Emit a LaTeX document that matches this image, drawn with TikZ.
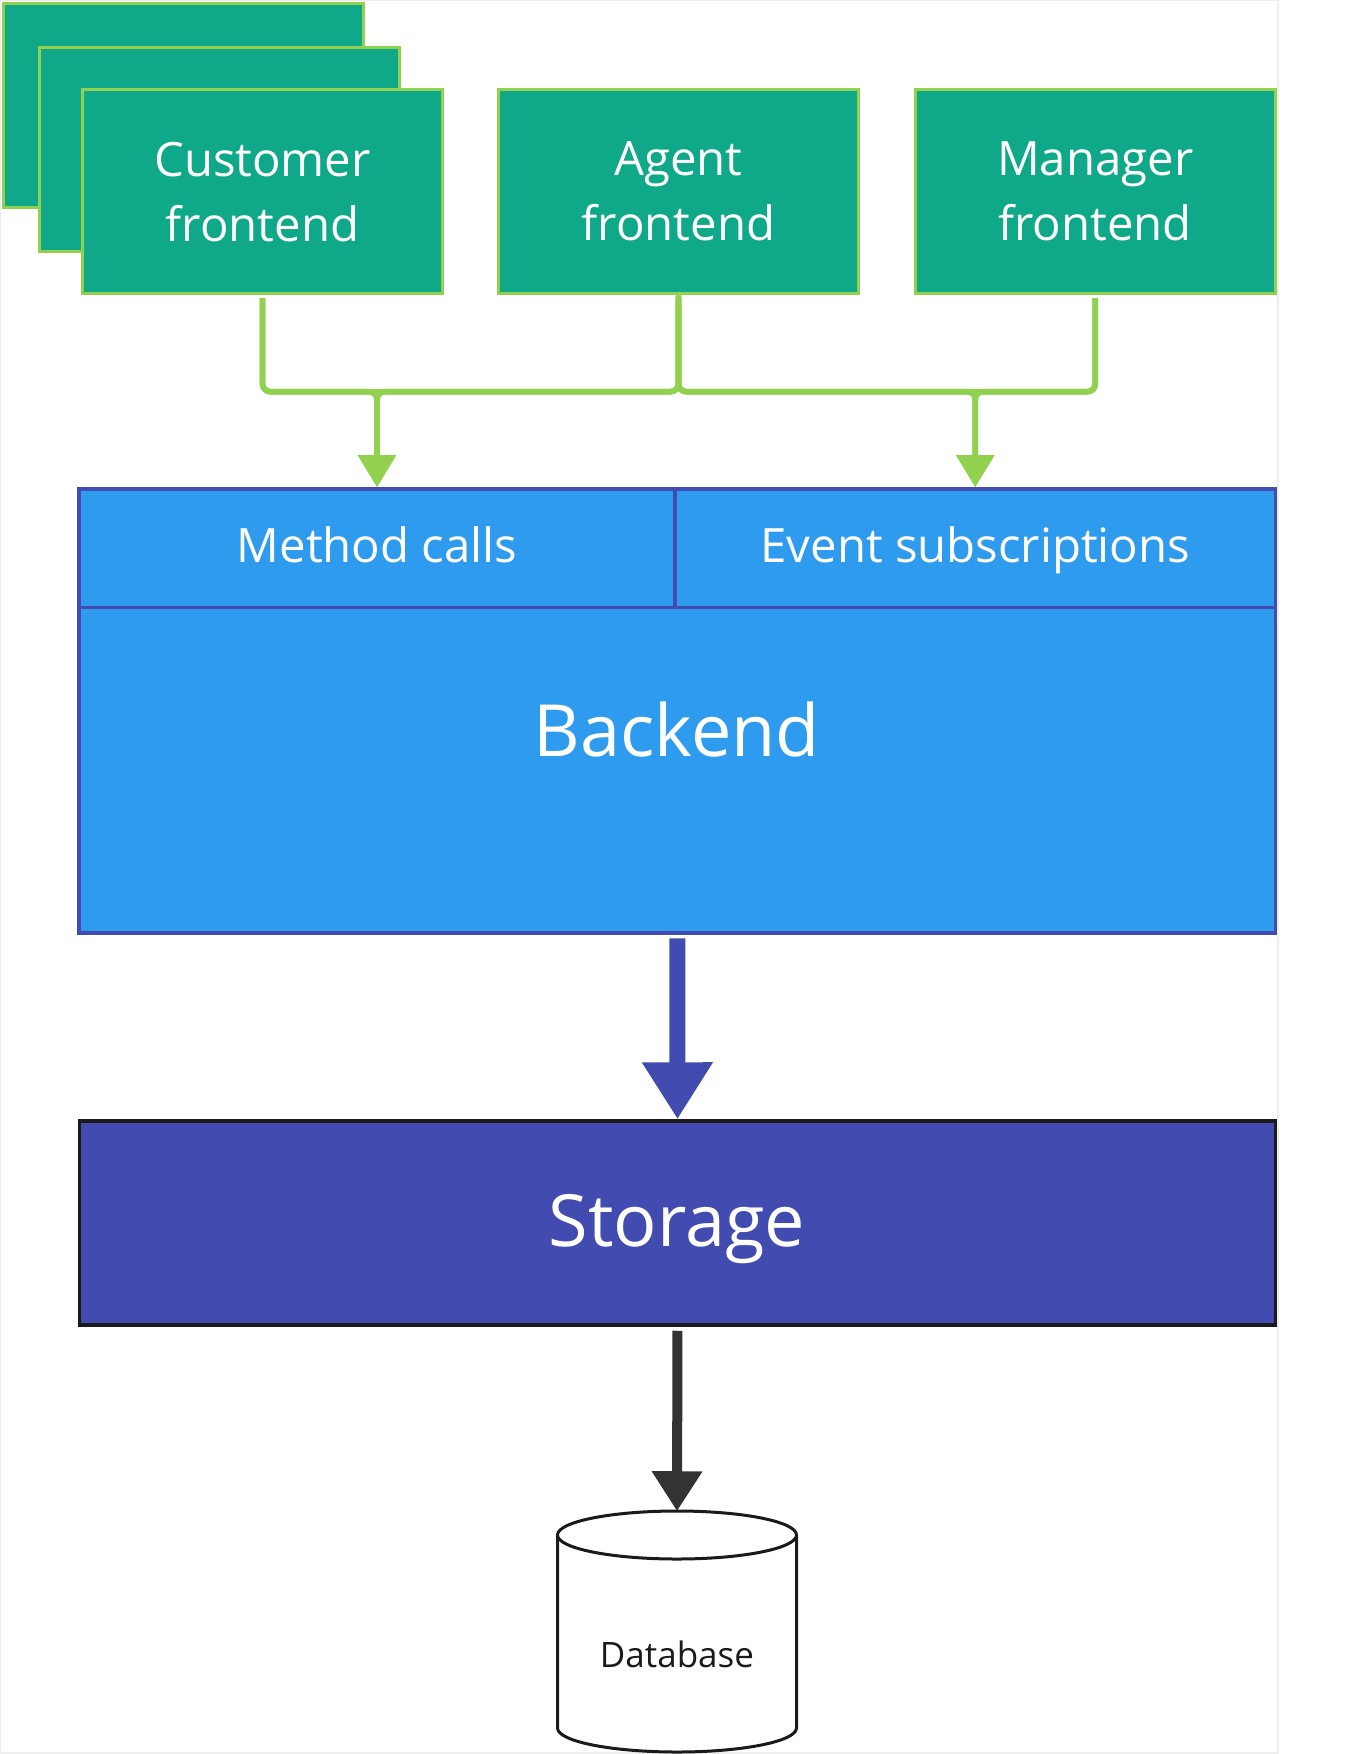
\documentclass[tikz,border=0pt]{standalone}
\usepackage{fontspec}
\setmainfont{Open Sans}
\usetikzlibrary{arrows.meta}
\definecolor{teal1}{HTML}{0FA888}
\definecolor{lgreen}{HTML}{92D050}
\definecolor{blue1}{HTML}{2E9BEE}
\definecolor{indigo1}{HTML}{424BB0}
\definecolor{dark1}{HTML}{333333}
\definecolor{ink1}{HTML}{1A1A1A}
\definecolor{frame1}{HTML}{EEEEEE}
\begin{document}
\begin{tikzpicture}[x=0.75pt,y=-0.75pt,
  febox/.style={draw=lgreen, fill=teal1, line width=2.5pt,
    minimum width={360*0.75pt}, minimum height={204*0.75pt}, inner sep=0pt,
    text=white, align=center, font=\fontsize{35.5pt}{48.75pt}\selectfont},
  cellbox/.style={draw=indigo1, fill=blue1, line width=2.9pt, inner sep=0pt,
    minimum height={118.5*0.75pt}, text=white, text height=22pt, text depth=0pt,
    font=\fontsize{35.5pt}{42pt}\selectfont},
  gline/.style={draw=lgreen, line width=4.3pt, rounded corners=6pt, shorten <=2pt},
  garrow/.style={gline, -{Triangle[length=24pt, width=27.75pt]}},
  bigtext/.style={anchor=base, text=white, font=\fontsize{54pt}{64pt}\selectfont}
]
\useasboundingbox (0,0) rectangle (1355,1754);
\draw[frame1, line width=1pt] (0.5,0.5) rectangle (1278,1753);

% frontends
\node[febox] (cust1) at (183.4,105.2) {};
\node[febox] (cust2) at (219.4,149.3) {};
\node[febox] (cust) at (262.5,191.75) {Customer\\frontend};
\node[febox] (agent) at (678.5,191.75) {Agent\\frontend};
\node[febox] (mgr) at (1095.25,191.75) {Manager\\frontend};

% backend
\node[draw=indigo1, fill=blue1, line width=2.9pt, inner sep=0pt,
  minimum width={1196.5*0.75pt}, minimum height={444*0.75pt}] (backend) at (677.25,711) {};
\node[cellbox, minimum width={596*0.75pt}] (mc) at (377,548.25) {Method calls};
\node[cellbox, minimum width={600.5*0.75pt}] (es) at (975.25,548.25) {Event subscriptions};
\node[bigtext] (backendtext) at (677,756) {Backend};

% storage
\node[draw=ink1, fill=indigo1, line width=2.6pt, inner sep=0pt,
  minimum width={1196*0.75pt}, minimum height={204*0.75pt}] (storage) at (677.5,1223) {};
\node[bigtext] (storagetext) at (677,1246) {Storage};

% database
\node[inner sep=0pt, minimum width={239*0.75pt}, minimum height={240*0.75pt}] (db) at (677,1631.5) {};
\path[draw=ink1, fill=white, line width=2.25pt] (557.5,1535) -- (557.5,1728)
  arc[start angle=180, end angle=360, x radius=89.625pt, y radius=18pt] -- (796.5,1535);
\draw[ink1, fill=white, line width=2.25pt] (677,1535) ellipse [x radius=89.625pt, y radius=18pt];
\node[anchor=base, text=ink1, font=\fontsize{26.25pt}{30pt}\selectfont] (dbtext) at (677,1667) {Database};

% green connectors
\coordinate (busy) at (0,391.7);
\draw[gline] (cust.south) -- (cust.south |- busy) -- (agent.south |- busy) -- (agent.south);
\draw[gline] (mgr.south) -- (mgr.south |- busy) -- (agent.south |- busy) -- (agent.south);
\draw[garrow] (cust.south) -- (cust.south |- busy) -- (mc.north |- busy) -- (mc.north);
\draw[garrow] (agent.south) -- (agent.south |- busy) -- (mc.north |- busy) -- (mc.north);
\draw[garrow] (agent.south) -- (agent.south |- busy) -- (es.north |- busy) -- (es.north);
\draw[garrow] (mgr.south) -- (mgr.south |- busy) -- (es.north |- busy) -- (es.north);

% vertical arrows
\draw[indigo1, line width=12pt, shorten <=2.5pt, -{Triangle[length=42.75pt, width=50.25pt]}] (backend.south) -- (storage.north);
\draw[dark1, line width=7.5pt, shorten <=3pt, -{Triangle[length=30pt, width=36pt]}] (storage.south) -- (db.north);
\end{tikzpicture}
\end{document}
